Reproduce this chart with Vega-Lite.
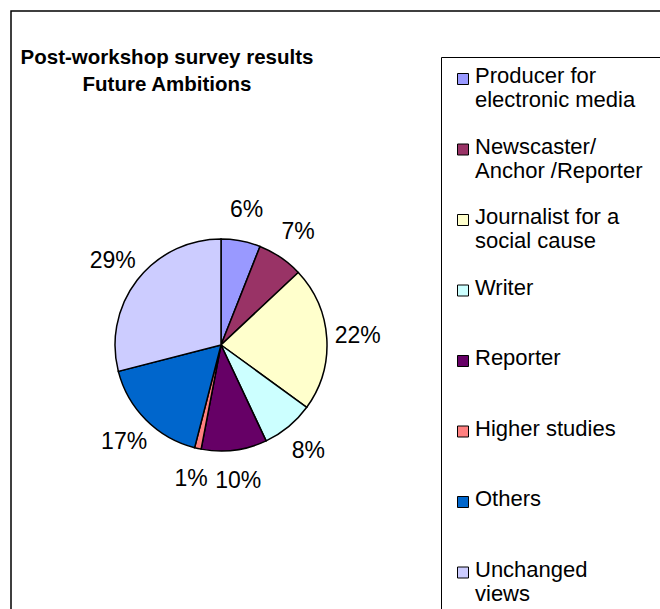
{
  "$schema": "https://vega.github.io/schema/vega-lite/v6.json",
  "width": 669,
  "height": 618,
  "autosize": {"type": "none"},
  "padding": {"left": 11, "top": 11, "right": -20, "bottom": -20},
  "background": "white",
  "view": {"stroke": "black", "strokeWidth": 1.5, "fill": "white"},
  "config": {
    "font": "Liberation Sans"
  },
  "title": {
    "text": ["Post-workshop survey results", "Future Ambitions"],
    "fontSize": 20.5,
    "fontWeight": "bold",
    "font": "Liberation Sans",
    "color": "black",
    "anchor": "start",
    "align": "center",
    "dx": 156,
    "baseline": "top",
    "lineHeight": 27,
    "offset": 0,
    "dy": 84
  },
  "data": {
    "values": [
      {"idx": 1, "ambition": "Producer for electronic media", "share": 0.06},
      {"idx": 2, "ambition": "Newscaster/Anchor/Reporter", "share": 0.07},
      {"idx": 3, "ambition": "Journalist for a social cause", "share": 0.22},
      {"idx": 4, "ambition": "Writer", "share": 0.08},
      {"idx": 5, "ambition": "Reporter", "share": 0.10},
      {"idx": 6, "ambition": "Higher studies", "share": 0.01},
      {"idx": 7, "ambition": "Others", "share": 0.17},
      {"idx": 8, "ambition": "Unchanged views", "share": 0.29}
    ]
  },
  "encoding": {
    "theta": {"field": "share", "type": "quantitative", "stack": true},
    "order": {"field": "idx", "type": "quantitative"}
  },
  "layer": [
    {
      "mark": {"type": "arc", "outerRadius": 106, "x": 210, "y": 334, "stroke": "black", "strokeWidth": 1.5},
      "encoding": {
        "color": {
          "field": "ambition",
          "type": "nominal",
          "sort": null,
          "scale": {
            "domain": ["Producer for electronic media", "Newscaster/Anchor/Reporter", "Journalist for a social cause", "Writer", "Reporter", "Higher studies", "Others", "Unchanged views"],
            "range": ["#9999FF", "#993366", "#FFFFCC", "#CCFFFF", "#660066", "#FF8080", "#0066CC", "#CCCCFF"]
          },
          "legend": {
            "orient": "none",
            "legendX": 430,
            "legendY": 46,
            "title": " ",
            "titleOrient": "right",
            "titlePadding": 20,
            "strokeColor": "black",
            "padding": 11,
            "symbolType": "square",
            "symbolSize": 121,
            "symbolStrokeColor": "black",
            "symbolStrokeWidth": 1,
            "labelFontSize": 22,
            "labelFont": "Liberation Sans",
            "labelColor": "black",
            "labelLimit": 400,
            "labelOffset": 1,
            "labelBaseline": "top",
            "gridAlign": "all",
            "rowPadding": 24.5,
            "labelExpr": "datum.label == 'Producer for electronic media' ? ['Producer for', 'electronic media'] : datum.label == 'Newscaster/Anchor/Reporter' ? ['Newscaster/', 'Anchor /Reporter'] : datum.label == 'Journalist for a social cause' ? ['Journalist for a', 'social cause'] : datum.label == 'Unchanged views' ? ['Unchanged', 'views'] : datum.label",
            "encode": {
              "labels": {"update": {"lineHeight": {"value": 24}, "dy": {"value": -13}}}
            }
          }
        }
      }
    },
    {
      "mark": {"type": "text", "radius": 137, "x": 210, "y": 334, "fontSize": 23, "font": "Liberation Sans", "fill": "black"},
      "encoding": {
        "text": {"field": "share", "type": "quantitative", "format": ".0%"}
      }
    }
  ]
}
